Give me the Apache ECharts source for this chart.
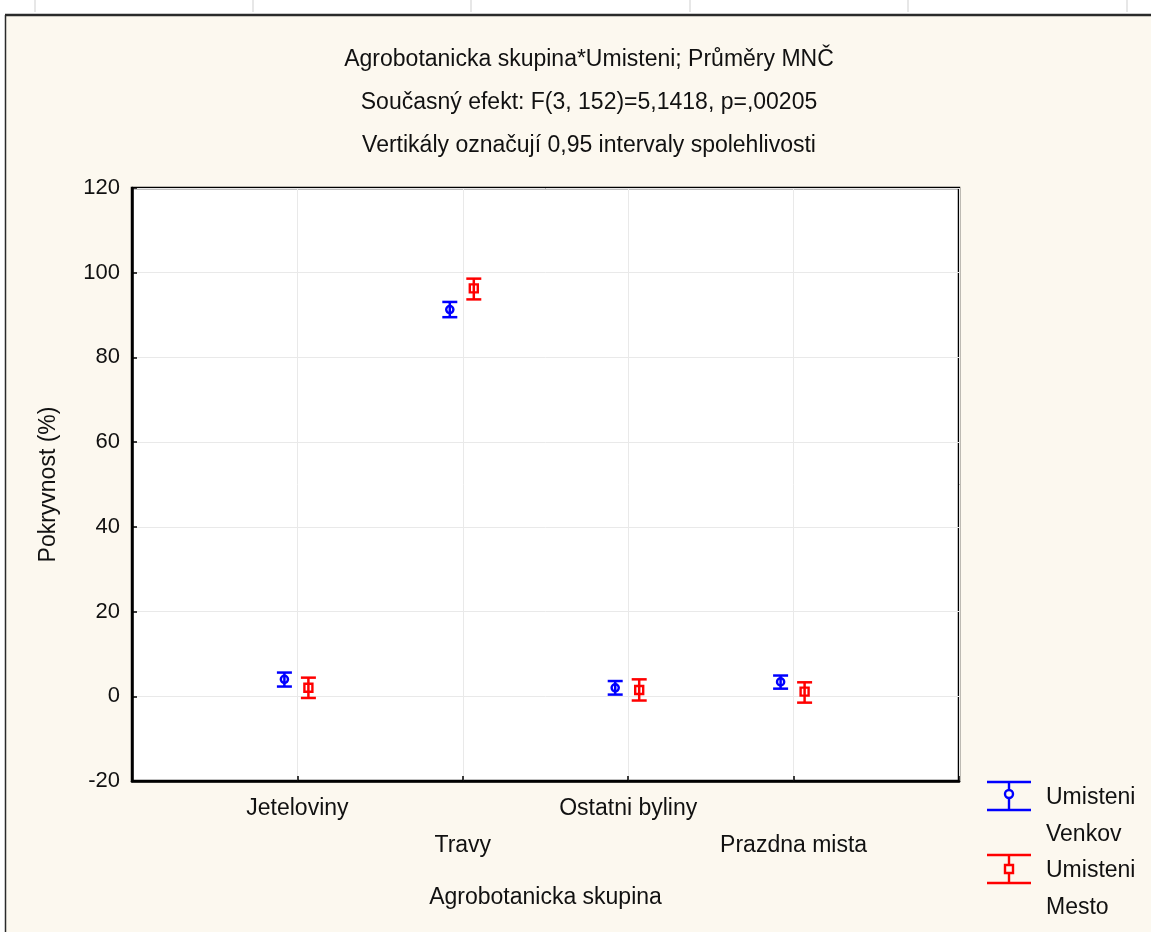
<!DOCTYPE html>
<html>
<head>
<meta charset="utf-8">
<script src="https://cdn.jsdelivr.net/npm/echarts@6/dist/echarts.min.js"></script>
<style>
html,body{margin:0;padding:0;background:#ffffff;}
#chart{width:1151px;height:932px;}
</style>
</head>
<body>
<div id="chart"></div>
<script>
// ---- data ----
var categories = ['Jeteloviny', 'Travy', 'Ostatni byliny', 'Prazdna mista'];
var venkovMean = [4.0, 91.3, 2.0, 3.4];
var venkovLow  = [2.3, 89.5, 0.4, 1.8];
var venkovHigh = [5.6, 93.1, 3.6, 4.9];
var mestoMean  = [2.0, 96.3, 1.5, 1.1];
var mestoLow   = [-0.4, 93.7, -1.0, -1.5];
var mestoHigh  = [4.4, 98.6, 4.0, 3.3];
var yTicks = [-20, 0, 20, 40, 60, 80, 100, 120];
var titleLines = [
  'Agrobotanicka skupina*Umisteni; Průměry MNČ',
  'Současný efekt: F(3, 152)=5,1418, p=,00205',
  'Vertikály označují 0,95 intervaly spolehlivosti'
];
var legendNames = ['Umisteni\nVenkov', 'Umisteni\nMesto'];

var FONT = '"Liberation Sans", Arial, sans-serif';
var FS = 23;
var TXT = '#111111';

function buildData(mean, low, high) {
  return categories.map(function (c, i) { return [i + 1, low[i], mean[i], high[i]]; });
}

function makeRender(color, shape, dx) {
  return function (params, api) {
    var x = api.value(0);
    var pL = api.coord([x, api.value(1)]);
    var pM = api.coord([x, api.value(2)]);
    var pH = api.coord([x, api.value(3)]);
    var cx = pM[0] + dx;
    var hw = 7.5;
    var st = { stroke: color, lineWidth: 2.5, fill: null };
    var children = [
      { type: 'line', shape: { x1: cx, y1: pH[1], x2: cx, y2: pL[1] }, style: st },
      { type: 'line', shape: { x1: cx - hw, y1: pH[1], x2: cx + hw, y2: pH[1] }, style: st },
      { type: 'line', shape: { x1: cx - hw, y1: pL[1], x2: cx + hw, y2: pL[1] }, style: st }
    ];
    if (shape === 'circle') {
      children.push({ type: 'circle', shape: { cx: cx, cy: pM[1], r: 3.6 }, style: { stroke: color, lineWidth: 2.4, fill: null } });
    } else {
      children.push({ type: 'rect', shape: { x: cx - 4, y: pM[1] - 4, width: 8, height: 8 }, style: { stroke: color, lineWidth: 2.4, fill: null } });
    }
    return { type: 'group', children: children };
  };
}

var chart = echarts.init(document.getElementById('chart'), null, { renderer: 'canvas' });

var graphics = [
  { type: 'rect', shape: { x: 0, y: 0, width: 1151, height: 15 }, style: { fill: '#ffffff' }, z: 0 },
  { type: 'rect', shape: { x: 0, y: 0, width: 5, height: 932 }, style: { fill: '#ffffff' }, z: 0 },
  { type: 'line', shape: { x1: 5, y1: 15, x2: 1151, y2: 15 }, style: { stroke: '#2a2a2a', lineWidth: 2.5 }, z: 1 },
  { type: 'line', shape: { x1: 5.5, y1: 15, x2: 5.5, y2: 932 }, style: { stroke: '#2a2a2a', lineWidth: 1.5 }, z: 1 }
];
[35, 253, 471, 690, 908, 1127].forEach(function (x) {
  graphics.push({ type: 'line', shape: { x1: x, y1: 0, x2: x, y2: 12 }, style: { stroke: '#cfcfcf', lineWidth: 1 }, z: 1 });
});
// legend (drawn manually to mimic error-bar icons)
function legendItem(y0, color, shape, name) {
  var st = { stroke: color, lineWidth: 2.4 };
  graphics.push({ type: 'line', shape: { x1: 987, y1: y0, x2: 1031, y2: y0 }, style: st, z: 5 });
  graphics.push({ type: 'line', shape: { x1: 987, y1: y0 + 28, x2: 1031, y2: y0 + 28 }, style: st, z: 5 });
  graphics.push({ type: 'line', shape: { x1: 1009, y1: y0, x2: 1009, y2: y0 + 28 }, style: st, z: 5 });
  if (shape === 'circle') {
    graphics.push({ type: 'circle', shape: { cx: 1009, cy: y0 + 12, r: 4 }, style: { stroke: color, lineWidth: 2.4, fill: '#fcf8ef' }, z: 6 });
  } else {
    graphics.push({ type: 'rect', shape: { x: 1005, y: y0 + 10, width: 8, height: 8 }, style: { stroke: color, lineWidth: 2.4, fill: '#fcf8ef' }, z: 6 });
  }
  graphics.push({ type: 'text', x: 1046, y: y0 - 3, style: { text: name, font: FS + 'px ' + FONT, fill: TXT, lineHeight: 37, textVerticalAlign: 'top' }, z: 6 });
}
legendItem(782, '#0000ff', 'circle', legendNames[0]);
legendItem(855, '#ff0000', 'square', legendNames[1]);

var option = {
  backgroundColor: '#fcf8ef',
  animation: false,
  textStyle: { fontFamily: FONT },
  title: {
    text: titleLines.join('\n'),
    left: 584,
    top: 33,
    textAlign: 'center',
    textStyle: { fontFamily: FONT, fontSize: FS, fontWeight: 'normal', color: TXT, lineHeight: 43 }
  },
  graphic: { elements: graphics },
  grid: {
    left: 132, top: 188, width: 827, height: 593,
    show: true, backgroundColor: '#ffffff', borderColor: '#000000', borderWidth: 2.5
  },
  xAxis: {
    type: 'value', min: 0, max: 5, interval: 1,
    name: 'Agrobotanicka skupina', nameLocation: 'middle', nameGap: 105,
    nameTextStyle: { fontFamily: FONT, fontSize: FS, color: TXT },
    axisLine: { show: true, onZero: false, lineStyle: { color: '#000', width: 2.5 } },
    axisTick: { show: true, inside: true, length: 5, lineStyle: { color: '#000', width: 1.5 } },
    splitLine: { show: true, lineStyle: { color: '#e9e9e9', width: 1 } },
    axisLabel: {
      margin: 9,
      fontFamily: FONT, fontSize: FS, color: TXT, lineHeight: 37,
      showMinLabel: true, showMaxLabel: true,
      formatter: function (v) {
        var i = Math.round(v) - 1;
        if (i < 0 || i >= categories.length) return '';
        return (i % 2 === 1 ? '\n' : '') + categories[i];
      }
    }
  },
  yAxis: {
    type: 'value', min: yTicks[0], max: yTicks[yTicks.length - 1], interval: 20,
    name: 'Pokryvnost (%)', nameLocation: 'middle', nameGap: 72, nameRotate: 90,
    nameTextStyle: { fontFamily: FONT, fontSize: FS, color: TXT },
    axisLine: { show: true, lineStyle: { color: '#000', width: 2.5 } },
    axisTick: { show: true, inside: true, length: 5, lineStyle: { color: '#000', width: 1.5 } },
    splitLine: { show: true, lineStyle: { color: '#e9e9e9', width: 1 } },
    axisLabel: { margin: 12, fontFamily: FONT, fontSize: 22, color: TXT }
  },
  series: [
    {
      name: 'Umisteni Venkov', type: 'custom', z: 5,
      renderItem: makeRender('#0000ff', 'circle', -13),
      encode: { x: 0, y: [1, 2, 3] },
      data: buildData(venkovMean, venkovLow, venkovHigh)
    },
    {
      name: 'Umisteni Mesto', type: 'custom', z: 5,
      renderItem: makeRender('#ff0000', 'square', 11),
      encode: { x: 0, y: [1, 2, 3] },
      data: buildData(mestoMean, mestoLow, mestoHigh)
    }
  ]
};
chart.setOption(option);
</script>
</body>
</html>
